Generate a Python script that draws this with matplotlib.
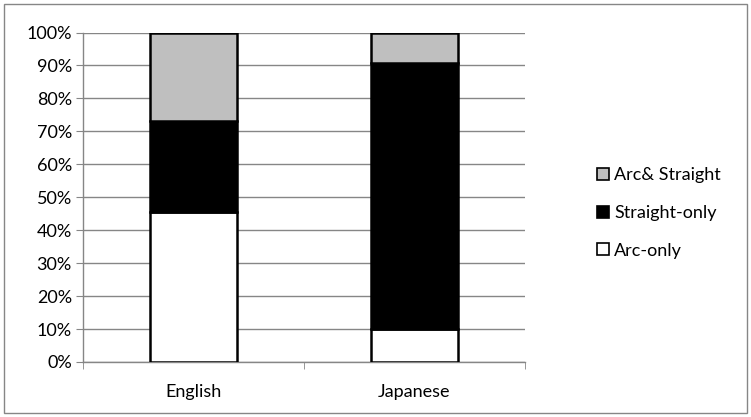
import matplotlib
matplotlib.use("Agg")
import matplotlib.pyplot as plt
from matplotlib.patches import Rectangle, Patch
import numpy as np

plt.rcParams['font.family'] = ['Lato', 'DejaVu Sans']

languages = ['English', 'Japanese']
arc_only = [45.5, 10.1]
straight_only = [27.7, 80.6]
arc_straight = [26.8, 9.3]

series = [('Arc-only', arc_only, 'white'),
          ('Straight-only', straight_only, 'black'),
          ('Arc& Straight', arc_straight, '#bfbfbf')]

fig = plt.figure(figsize=(7.51, 4.17), dpi=100)
ax = fig.add_axes([83 / 751, 1 - 362 / 417, (525 - 83) / 751, (362 - 32.5) / 417])

x = np.arange(len(languages))
bottom = np.zeros(len(languages))
handles = []
for name, vals, col in series:
    ax.bar(x, vals, 0.39, bottom=bottom, color=col, edgecolor='black', linewidth=1.8, zorder=3)
    bottom += np.array(vals)
    handles.append(Patch(facecolor=col, edgecolor='black', linewidth=1.2, label=name))

fs = 13
ax.set_xlim(-0.5, 1.5)
ax.set_ylim(0, 100)
ax.set_yticks(np.arange(0, 101, 10))
ax.set_yticklabels([f'{v}%' for v in range(0, 101, 10)], fontsize=fs)
ax.set_xticks(x)
ax.set_xticklabels(languages, fontsize=fs)
ax.set_xticks([-0.5, 0.5, 1.5], minor=True)
ax.tick_params(axis='x', which='major', length=0, pad=16)
ax.tick_params(axis='x', which='minor', length=5, color='#868686', direction='out')
ax.tick_params(axis='y', length=5, color='#868686', pad=3)
ax.grid(axis='y', color='#868686', linewidth=1, zorder=0)
for s in ['top', 'right']:
    ax.spines[s].set_visible(False)
for s in ['left', 'bottom']:
    ax.spines[s].set_color('#868686')
    ax.spines[s].set_linewidth(1)

ax.legend(handles=handles[::-1], loc='center left', bbox_to_anchor=(581 / 751, 0.489),
          bbox_transform=fig.transFigure, frameon=False, fontsize=fs,
          handlelength=0.65, handleheight=0.65, handletextpad=0.3, labelspacing=1.2)

fig.patches.append(Rectangle((4 / 751, 4 / 417), 743 / 751, 409 / 417, transform=fig.transFigure,
                             fill=False, edgecolor='#868686', linewidth=1))

fig.savefig('out.png', dpi=100)
